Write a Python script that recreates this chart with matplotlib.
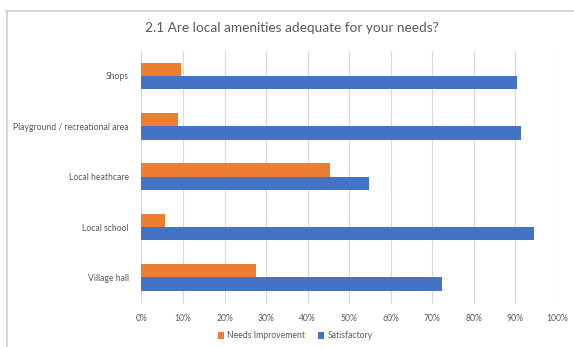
import numpy as np
import matplotlib.pyplot as plt
from matplotlib.lines import Line2D

plt.rcParams['font.family'] = ['Lato', 'DejaVu Sans']

categories = ["Shops", "Playground / recreational area", "Local heathcare",
              "Local school", "Village hall"]
needs_improvement = [9.5, 8.7, 45.3, 5.6, 27.6]
satisfactory = [90.5, 91.3, 54.7, 94.4, 72.4]

orange = "#ED7D31"
blue = "#4472C4"
txt = "#595959"

fig = plt.figure(figsize=(5.74, 3.47), dpi=100)
ax = fig.add_axes([0.2465, 0.128, 0.7235, 0.7256])

y = np.arange(len(categories))
h = 0.265
ax.barh(y - h / 2, needs_improvement, height=h, color=orange, label="Needs Improvement", zorder=3)
ax.barh(y + h / 2, satisfactory, height=h, color=blue, label="Satisfactory", zorder=3)

ax.set_ylim(len(categories) - 0.5, -0.5)
ax.set_yticks(y)
ax.set_yticklabels(categories, fontsize=6.2, color=txt)
ax.set_xlim(0, 100)
ax.set_xticks(np.arange(0, 101, 10))
ax.set_xticklabels([f"{v}%" for v in range(0, 101, 10)], fontsize=6.2, color=txt)
ax.tick_params(length=0, pad=8)
ax.tick_params(axis='y', pad=9)
ax.grid(axis='x', color="#D9D9D9", lw=0.8, zorder=0)
for s in ax.spines.values():
    s.set_visible(False)

# chart frame (only top and left edges are in view)
fig.add_artist(Line2D([6 / 574, 1], [1 - 10.5 / 347] * 2, color="#D0D0D0", lw=1.2))
fig.add_artist(Line2D([6.5 / 574] * 2, [0, 1 - 10.5 / 347], color="#D0D0D0", lw=1.2))

fig.text(292 / 574, 1 - 27.5 / 347, "2.1 Are local amenities adequate for your needs?",
         ha="center", va="center", fontsize=9.8, color=txt)

fig.legend(loc="center", bbox_to_anchor=(295 / 574, 1 - 336 / 347), ncol=2, frameon=False,
           fontsize=6.2, labelcolor=txt, handlelength=0.7, handleheight=0.7,
           handletextpad=0.4, columnspacing=1.5)

fig.savefig("out.png", dpi=100)
